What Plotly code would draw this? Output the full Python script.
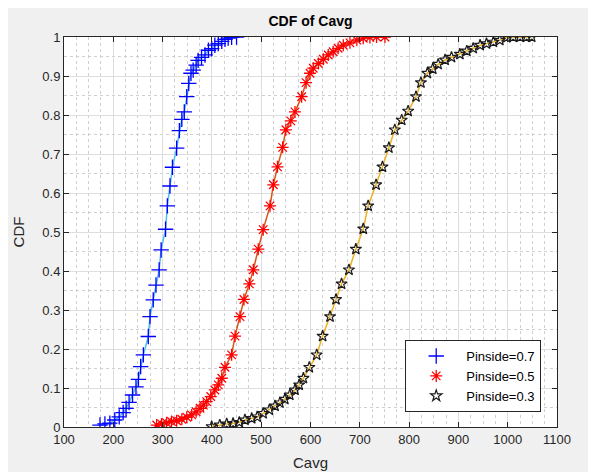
import plotly.graph_objects as go

# ---------------- data ----------------
x_p07 = [173, 183, 193, 203, 212, 220, 226, 232, 239, 246, 251, 255.5, 261, 271, 274.5,
         281, 286.6, 293, 297, 306, 309.6, 315, 320, 328.5, 334, 339, 344, 349, 353,
         357.6, 362, 368, 372, 379, 386, 393, 399.6, 406, 413, 420, 426.6, 433, 440, 450]
y_p07 = [0.005, 0.008, 0.010, 0.018, 0.026, 0.037, 0.048, 0.063, 0.082, 0.103, 0.122,
         0.155, 0.185, 0.232, 0.283, 0.326, 0.364, 0.403, 0.454, 0.507, 0.567, 0.618,
         0.666, 0.715, 0.760, 0.789, 0.808, 0.847, 0.881, 0.907, 0.915, 0.928, 0.940,
         0.948, 0.954, 0.966, 0.970, 0.979, 0.983, 0.989, 0.994, 0.997, 0.999, 1.0]

x_p05 = [288, 298, 308, 318, 328.5, 339, 349, 359, 368, 376, 382.6, 389.5, 397.6, 406,
         413, 420, 426.6, 440, 447, 457, 465, 476, 484, 494, 504, 518, 524.6, 533,
         543.5, 550, 560, 568.5, 582, 591, 599, 605.6, 616, 626, 636, 646, 656, 666.5,
         680, 694, 707, 720.6, 734, 751]
y_p05 = [0.005, 0.008, 0.011, 0.014, 0.016, 0.020, 0.025, 0.031, 0.039, 0.048, 0.056,
         0.065, 0.078, 0.095, 0.108, 0.125, 0.153, 0.185, 0.233, 0.283, 0.327, 0.367,
         0.403, 0.456, 0.506, 0.567, 0.621, 0.667, 0.717, 0.762, 0.785, 0.808, 0.847,
         0.883, 0.907, 0.920, 0.932, 0.943, 0.954, 0.962, 0.971, 0.979, 0.985, 0.992,
         0.997, 0.999, 1.0, 1.0]

x_p03 = [399.6, 416, 430, 443, 455.6, 467, 480.7, 492, 504, 516.6, 528, 538, 548, 558,
         568.5, 577, 585.6, 597.6, 612.6, 624.6, 639.6, 651.7, 663, 678, 692, 707, 717,
         733, 746, 759, 771, 785, 798, 814, 824, 837, 848, 859, 873, 886, 903, 917, 930,
         944, 957, 971, 984, 998, 1011, 1025, 1038.5, 1048.6]
y_p03 = [0.001, 0.005, 0.008, 0.009, 0.012, 0.018, 0.022, 0.026, 0.035, 0.044, 0.054,
         0.062, 0.071, 0.082, 0.095, 0.108, 0.125, 0.153, 0.185, 0.233, 0.283, 0.327,
         0.367, 0.403, 0.456, 0.508, 0.567, 0.621, 0.667, 0.716, 0.762, 0.787, 0.810,
         0.847, 0.883, 0.907, 0.918, 0.930, 0.941, 0.948, 0.956, 0.964, 0.971, 0.979,
         0.983, 0.987, 0.992, 0.999, 1.0, 1.0, 1.0, 1.0]

series_names = ["Pinside=0.7", "Pinside=0.5", "Pinside=0.3"]
x_ticks = [100, 200, 300, 400, 500, 600, 700, 800, 900, 1000, 1100]
y_ticks = [0, 0.1, 0.2, 0.3, 0.4, 0.5, 0.6, 0.7, 0.8, 0.9, 1]
y_tick_labels = ["0", "0.1", "0.2", "0.3", "0.4", "0.5", "0.6", "0.7", "0.8", "0.9", "1"]

# ---------------- figure ----------------
FONT = "Liberation Sans, Arial, Helvetica, sans-serif"
AX = "#262626"

fig = go.Figure()

series = [
    (x_p07, y_p07, series_names[0], "#4DBEEE",
     dict(symbol="cross-thin-open", size=11, color="#0000FF",
          line=dict(color="#0000FF", width=1.3))),
    (x_p05, y_p05, series_names[1], "#D95319",
     dict(symbol="asterisk-open", size=10, color="#FF0000",
          line=dict(color="#FF0000", width=1.3))),
    (x_p03, y_p03, series_names[2], "#EDB120",
     dict(symbol="star-open", size=8.5, color="#1a1a1a",
          line=dict(color="#1a1a1a", width=1.2))),
]

for xs, ys, name, lc, mk in series:
    fig.add_trace(go.Scatter(x=xs, y=ys, mode="lines", line=dict(color=lc, width=1.5),
                             showlegend=False, hoverinfo="skip"))
for xs, ys, name, lc, mk in series:
    fig.add_trace(go.Scatter(x=xs, y=ys, mode="markers", marker=mk, name=name))

axis_common = dict(
    showline=True, linecolor=AX, linewidth=1, mirror="ticks",
    ticks="inside", ticklen=5, tickcolor=AX, tickwidth=1,
    showgrid=True, gridcolor="#dedede", gridwidth=1,
    zeroline=False, automargin=False,
    tickfont=dict(family=FONT, size=13, color=AX),
)

fig.update_xaxes(
    range=[100, 1100], tickvals=x_ticks,
    minor=dict(dtick=25, showgrid=True, gridcolor="#cfcfcf", griddash="dot", ticks=""),
    title=dict(text="Cavg", font=dict(family=FONT, size=15, color=AX), standoff=11),
    **axis_common,
)
fig.update_yaxes(
    range=[0, 1], tickvals=y_ticks, ticktext=y_tick_labels,
    minor=dict(dtick=0.05, showgrid=True, gridcolor="#cfcfcf", griddash="dot", ticks=""),
    title=dict(text="CDF", font=dict(family=FONT, size=15, color=AX), standoff=14),
    **axis_common,
)

fig.update_layout(
    width=596, height=472,
    margin=dict(l=56, r=47, t=29, b=53),
    paper_bgcolor="#f0f0f0", plot_bgcolor="white",
    title=dict(text="<b>CDF of Cavg</b>", x=0.5, xref="paper", xanchor="center",
               y=1 - 13.5 / 472, yref="container", yanchor="middle",
               font=dict(family=FONT, size=14, color="#000000")),
    legend=dict(x=0.968, y=0.223, xanchor="right", yanchor="top",
                bgcolor="white", bordercolor=AX, borderwidth=1,
                font=dict(family=FONT, size=13, color="#000000"),
                itemwidth=50, tracegroupgap=0),
    showlegend=True,
)

fig.write_html("out.html")
